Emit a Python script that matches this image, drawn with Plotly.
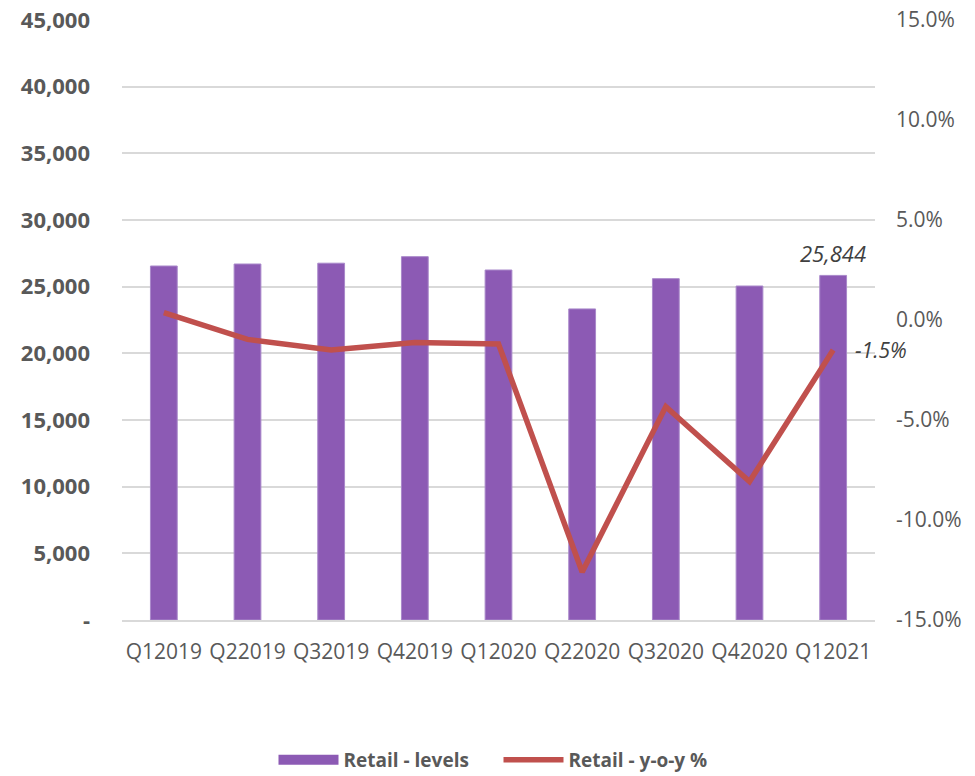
import plotly.graph_objects as go

# Quarterly retail data
quarters = ["Q12019", "Q22019", "Q32019", "Q42019", "Q12020",
            "Q22020", "Q32020", "Q42020", "Q12021"]
retail_levels = [26550, 26700, 26760, 27250, 26250, 23330, 25600, 25050, 25844]
retail_yoy = [0.37, -0.97, -1.5, -1.13, -1.2, -12.6, -4.33, -8.08, -1.5]

level_ticks = [0, 5000, 10000, 15000, 20000, 25000, 30000, 35000, 40000, 45000]
level_tick_text = ["-"] + [f"{v:,}" for v in level_ticks[1:]]
pct_ticks = [-15, -10, -5, 0, 5, 10, 15]
pct_tick_text = [f"{v:.1f}%" for v in pct_ticks]

FONT = "Open Sans, Liberation Sans, sans-serif"
GREY = "#595959"
LABEL = "#404040"
PURPLE = "#8C5AB4"

fig = go.Figure()

fig.add_trace(go.Bar(
    x=quarters, y=retail_levels, name="Retail - levels",
    marker=dict(color=PURPLE, line=dict(color="#A988CA", width=1)),
    yaxis="y", showlegend=False,
))
# Legend key for the bars, drawn as a wide block
fig.add_trace(go.Scatter(
    x=[quarters[0]], y=[None], name="Retail - levels", mode="lines",
    line=dict(color=PURPLE, width=15), yaxis="y", hoverinfo="skip",
))

fig.add_trace(go.Scatter(
    x=quarters, y=retail_yoy, name="Retail - y-o-y %",
    mode="lines", line=dict(color="#C0504D", width=5.5),
    yaxis="y2",
))

# Value labels on the final quarter
fig.add_annotation(
    x=quarters[-1], y=retail_levels[-1], xref="x", yref="y",
    text=f"<i>{retail_levels[-1]:,}</i>", showarrow=False,
    yanchor="bottom", yshift=5,
    font=dict(family=FONT, size=22, color=LABEL),
)
fig.add_annotation(
    x=quarters[-1], y=retail_yoy[-1], xref="x", yref="y2",
    text=f"<i>{retail_yoy[-1]:.1f}%</i>", showarrow=False,
    xanchor="left", xshift=20,
    font=dict(family=FONT, size=21, color=LABEL),
)

fig.update_layout(
    width=975, height=776,
    margin=dict(l=122, r=100, t=20, b=156, autoexpand=False),
    paper_bgcolor="white", plot_bgcolor="white",
    font=dict(family=FONT, color=GREY),
    bargap=0.68,
    showlegend=True,
    legend=dict(
        orientation="h", x=0.5, xanchor="center", y=-0.233, yanchor="middle",
        font=dict(family=FONT, size=19, color=GREY, weight="bold"),
        itemwidth=60, traceorder="normal", entrywidth=150,
    ),
    xaxis=dict(
        type="category", range=[-0.5, len(quarters) - 0.5], autorange=False,
        showgrid=False, showline=True, linecolor="#D9D9D9", linewidth=2,
        ticks="", tickfont=dict(size=21, color=GREY), ticklabelstandoff=12,
    ),
    yaxis=dict(
        range=[0, 45000], tickvals=level_ticks, ticktext=level_tick_text,
        showgrid=True, gridcolor="#D9D9D9", gridwidth=1.5, zeroline=False,
        tickfont=dict(size=22, color=GREY, weight="bold"), ticklabelstandoff=31,
    ),
    yaxis2=dict(
        overlaying="y", side="right", range=[-15, 15],
        tickvals=pct_ticks, ticktext=pct_tick_text,
        showgrid=False, zeroline=False,
        tickfont=dict(size=21, color=GREY), ticklabelstandoff=20,
    ),
)

fig.write_html("out.html")
